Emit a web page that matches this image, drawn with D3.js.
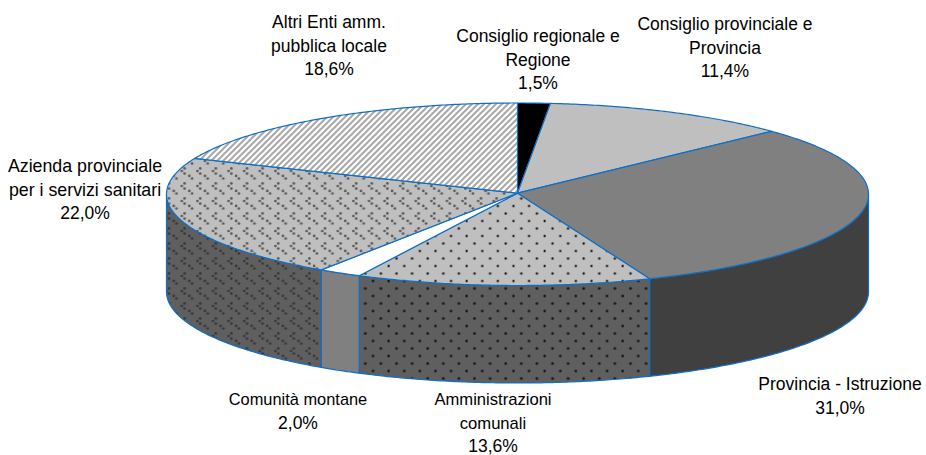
<!DOCTYPE html>
<html><head><meta charset="utf-8">
<script src="https://cdn.jsdelivr.net/npm/d3@7"></script>
<style>html,body{margin:0;background:#fff}svg{display:block}text{font-family:"Liberation Sans",Arial,sans-serif;fill:#000}</style>
</head><body><svg id="c" width="926" height="455"></svg>
<script>
const categories=["Consiglio regionale e Regione","Consiglio provinciale e Provincia","Provincia - Istruzione","Amministrazioni comunali","Comunità montane","Azienda provinciale per i servizi sanitari","Altri Enti amm. pubblica locale"];
const values=[1.5,11.4,31.0,13.6,2.0,22.0,18.6];
const valueLabels=["1,5%","11,4%","31,0%","13,6%","2,0%","22,0%","18,6%"];
const labelLines=[["Consiglio regionale e","Regione"],["Consiglio provinciale e","Provincia"],["Provincia - Istruzione"],["Amministrazioni","comunali"],["Comunità montane"],["Azienda provinciale","per i servizi sanitari"],["Altri Enti amm.","pubblica locale"]];
const labelAnchors=[[538,42],[725,30],[840,390],[493,405],[298,405],[85,172],[329,28]];
const labelSizes=[17.5,17.5,17.5,16.6,16.4,17.8,17.5];
const valueSize=17.5;
const topFills=["#000","#bfbfbf","#808080","url(#dotLight)","#fff","url(#chevLight)","url(#stripes)"];
const sideFills=["#000","#5f5f5f","#404040","url(#dotDark)","#808080","url(#chevDark)","#ddd"];

const svg=d3.select("#c");
const defs=svg.append("defs");
(function(){
  const p=defs.append("pattern").attr("id","stripes").attr("patternUnits","userSpaceOnUse").attr("width",6).attr("height",6);
  p.append("rect").attr("width",6).attr("height",6).attr("fill","#fff");
  p.append("path").attr("d","M-1.5,1.5 L1.5,-1.5 M-1.5,7.5 L7.5,-1.5 M4.5,7.5 L7.5,4.5").attr("stroke","#a8a8a8").attr("stroke-width",2);
})();
function dots(id,bg,halo){
  const p=defs.append("pattern").attr("id",id).attr("patternUnits","userSpaceOnUse").attr("width",15.6).attr("height",15);
  p.append("rect").attr("width",15.6).attr("height",15).attr("fill",bg);
  [[14.3,11],[6.5,3.5]].forEach(c=>{
    p.append("circle").attr("cx",c[0]).attr("cy",c[1]).attr("r",1.7).attr("fill",halo);
    p.append("circle").attr("cx",c[0]).attr("cy",c[1]).attr("r",0.9).attr("fill","#111");
  });
}
dots("dotLight","#bfbfbf","#8a8a8a");dots("dotDark","#5f5f5f","#3c3c3c");
function chev(id,bg,fg){
  const p=defs.append("pattern").attr("id",id).attr("patternUnits","userSpaceOnUse").attr("width",15.6).attr("height",15);
  p.append("rect").attr("width",15.6).attr("height",15).attr("fill",bg);
  const g=(cx,cy,d)=>[[-d*1.4,-2.6],[d*1.4,0],[-d*1.4,2.6]].forEach(o=>p.append("circle").attr("cx",cx+o[0]).attr("cy",cy+o[1]).attr("r",1.35).attr("fill",fg));
  g(11.6,6,-1);g(3.5,13.5,1);
}
chev("chevLight","#bfbfbf","#5c5c5c");chev("chevDark","#5f5f5f","#383838");

const x=d3.scaleLinear().domain([-1,1]).range([166.5,868.5]);
const y=d3.scaleLinear().domain([-1,1]).range([103,285.5]);
const depth=97.5;
const pts=(a0,a1,dy=0)=>{const n=Math.max(2,Math.ceil((a1-a0)/0.01));return d3.range(n+1).map(i=>{const a=a0+(a1-a0)*i/n;return [x(Math.sin(a)),y(-Math.cos(a))+dy];});};
const line=d3.line();
const pie=d3.pie().sort(null).value(d=>d)(values);
const st=s=>s.attr("stroke","#0f6fc6").attr("stroke-width",1.2).attr("stroke-linejoin","round");
pie.forEach((d,i)=>{
  const a0=Math.max(d.startAngle,Math.PI/2),a1=Math.min(d.endAngle,3*Math.PI/2);
  if(a1<=a0)return;
  const top=pts(a0,a1),bot=pts(a0,a1,depth).reverse();
  st(svg.append("path").attr("d",line(top.concat(bot))+"Z").attr("fill",sideFills[i]));
});
pie.forEach((d,i)=>{
  const c=[x(0),y(-0.012)];
  st(svg.append("path").attr("d",line([c].concat(pts(d.startAngle,d.endAngle)))+"Z").attr("fill",topFills[i]));
});
categories.forEach((name,i)=>{
  const [lx,ly]=labelAnchors[i];
  labelLines[i].forEach((t,k)=>{
    svg.append("text").attr("x",lx).attr("y",ly+k*23.5).attr("text-anchor","middle").attr("font-size",labelSizes[i]).text(t);
  });
  svg.append("text").attr("x",lx).attr("y",ly+labelLines[i].length*23.5).attr("text-anchor","middle").attr("font-size",valueSize).text(valueLabels[i]);
});
</script></body></html>
